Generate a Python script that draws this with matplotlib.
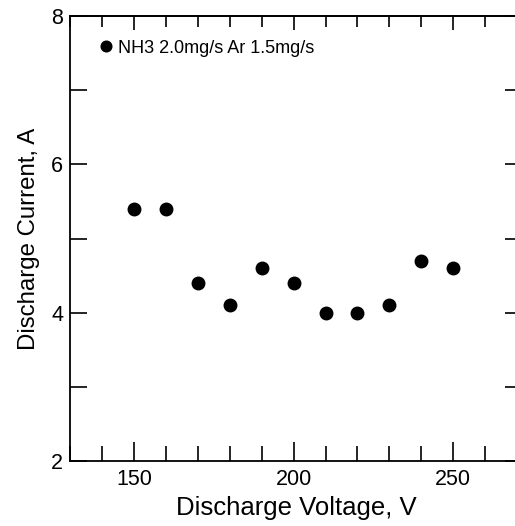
import matplotlib
matplotlib.use("Agg")
import matplotlib.pyplot as plt
from matplotlib.ticker import MultipleLocator

voltage = [150, 160, 170, 180, 190, 200, 210, 220, 230, 240, 250]
current = [5.4, 5.4, 4.4, 4.1, 4.6, 4.4, 4.0, 4.0, 4.1, 4.7, 4.6]
label = "NH3 2.0mg/s Ar 1.5mg/s"

plt.rcParams['font.family'] = ['Liberation Sans', 'DejaVu Sans']

fig = plt.figure(figsize=(5.15, 5.26), dpi=100)
W, H = 515, 526
ax = fig.add_axes([70 / W, 1 - 461 / H, 452 / W, 445 / H])

ax.plot(voltage, current, 'o', color='black', markersize=9, label=label)

ax.set_xlim(130, 271.5)
ax.set_ylim(2, 8)
ax.xaxis.set_major_locator(MultipleLocator(50))
ax.xaxis.set_minor_locator(MultipleLocator(10))
ax.yaxis.set_major_locator(MultipleLocator(2))
ax.yaxis.set_minor_locator(MultipleLocator(1))

ax.tick_params(which='both', direction='in', top=False, right=True, labelsize=15.5, width=1.2)
ax.tick_params(axis='x', which='major', length=14, pad=6)
ax.tick_params(axis='x', which='minor', length=11)
ax.tick_params(axis='y', which='both', length=12, pad=5)

# top axis has shorter ticks, no labels
top = ax.secondary_xaxis('top')
top.xaxis.set_major_locator(MultipleLocator(50))
top.xaxis.set_minor_locator(MultipleLocator(10))
top.tick_params(which='both', direction='in', labeltop=False, width=1.2)
top.tick_params(which='major', length=10)
top.tick_params(which='minor', length=8)

for s in list(ax.spines.values()) + list(top.spines.values()):
    s.set_linewidth(1.3)

ax.set_xlabel("Discharge Voltage, V", fontsize=18.5, labelpad=4)
ax.set_ylabel("Discharge Current, A", fontsize=17.3, labelpad=8)

ax.legend(loc='upper left', frameon=False, fontsize=13, handlelength=0.8,
          handletextpad=0.3, markerscale=0.85, bbox_to_anchor=(0.027, 0.983))

fig.savefig("out.png", dpi=100)
